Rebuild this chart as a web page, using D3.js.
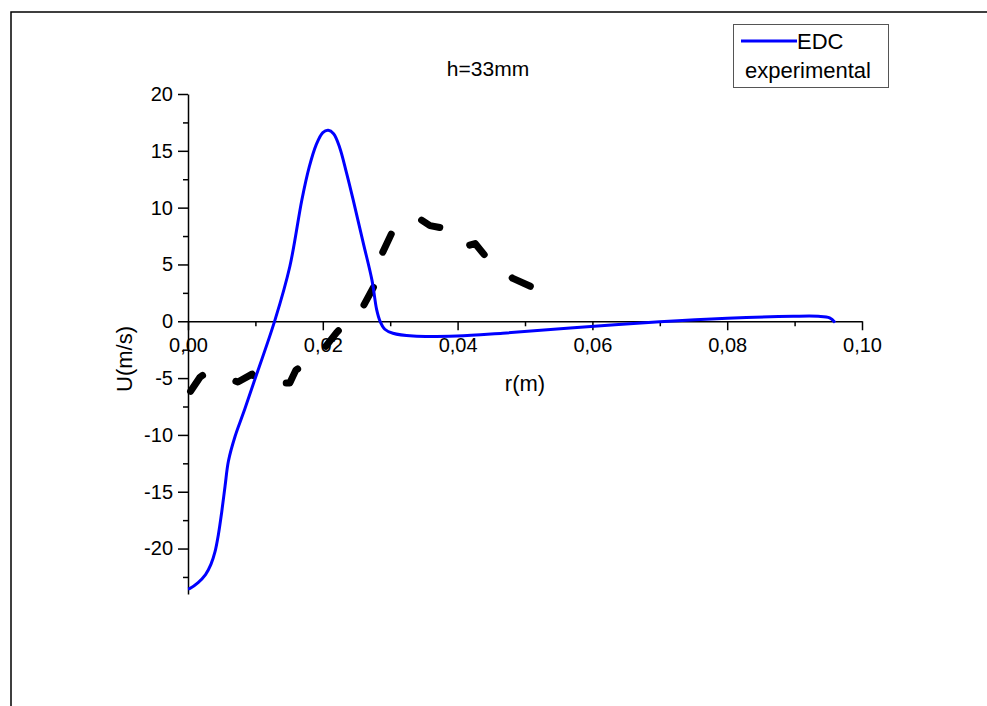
<!DOCTYPE html>
<html lang="en">
<head>
<meta charset="UTF-8">
<title>h=33mm</title>
<script src="https://cdn.jsdelivr.net/npm/d3@7"></script>
<style>
  body { margin: 0; background: #fff; }
  svg text { font-family: "Liberation Sans", Arial, sans-serif; fill: #000; }
  .tick text { font-size: 20px; }
</style>
</head>
<body>
<div id="chart"></div>
<script>
// EDC model curve, r (m) vs U (m/s)
var edcR = [0, 0.0003, 0.0015, 0.0026, 0.0034, 0.0040, 0.0045, 0.0050, 0.0055, 0.006, 0.007, 0.0082, 0.0097,
            0.0129, 0.0151, 0.0169, 0.018, 0.019, 0.020, 0.0208, 0.0216, 0.0225, 0.0235, 0.0245,
            0.026, 0.0273, 0.028, 0.0285, 0.0292, 0.0304, 0.0334, 0.0399, 0.0467, 0.0567,
            0.070, 0.080, 0.0898, 0.0935, 0.0952, 0.096];
var edcU = [-23.55, -23.5, -23.0, -22.3, -21.4, -20.3, -18.8, -16.8, -14.5, -12.3, -10.1, -8.1, -5.5,
            0.1, 4.8, 10.7, 13.6, 15.5, 16.6, 16.8, 16.5, 15.3, 13.1, 10.7,
            6.9, 3.6, 1.0, 0.0, -0.7, -1.05, -1.3, -1.3, -1.05, -0.6,
            -0.05, 0.26, 0.44, 0.44, 0.3, -0.1];

// experimental points
var expR = [0.0003, 0.0018, 0.0031, 0.0074, 0.0095, 0.0104, 0.0139, 0.0151, 0.0160, 0.0194, 0.0221, 0.0260,
            0.0279, 0.0288, 0.0304, 0.0341, 0.0359, 0.0374, 0.0411, 0.0426, 0.0443, 0.0482, 0.0518];
var expU = [-6.23, -4.91, -4.39, -5.35, -4.65, -5.35, -5.44, -5.44, -4.30, -2.98, -0.96, 1.32,
            3.42, 5.96, 7.98, 9.12, 8.42, 8.25, 6.58, 6.84, 5.61, 3.77, 2.81];

var xTicks = [0, 0.02, 0.04, 0.06, 0.08, 0.10];
var xMinor = [0.01, 0.03, 0.05, 0.07, 0.09];
var yTicks = [-20, -15, -10, -5, 0, 5, 10, 15, 20];
var yMinor = [-22.5, -17.5, -12.5, -7.5, -2.5, 2.5, 7.5, 12.5, 17.5];
var seriesNames = ["EDC", "experimental"];

var svg = d3.select("#chart").append("svg").attr("width", 987).attr("height", 706);

// outer frame (runs off the page at right and bottom)
svg.append("rect").attr("x", 11).attr("y", 12).attr("width", 1000).attr("height", 800)
   .attr("fill", "none").attr("stroke", "#000").attr("stroke-width", 1.5);

var x = d3.scaleLinear().domain([0, 0.10]).range([188, 862]);
var y = d3.scaleLinear().domain([-24, 20]).range([594, 94]);

var fmtX = function(d) { return d3.format(".2f")(d).replace(".", ","); };
var fmtY = function(d) { return String(d); };   // plain hyphen minus

// x axis sits on U = 0
var gx = svg.append("g").attr("transform", "translate(0," + y(0) + ")");
gx.call(d3.axisBottom(x).tickValues(xTicks).tickFormat(fmtX).tickSize(9).tickPadding(8).tickSizeOuter(0));
gx.append("g").call(d3.axisBottom(x).tickValues(xMinor).tickFormat("").tickSize(5).tickSizeOuter(0))
  .select(".domain").remove();

var gy = svg.append("g").attr("transform", "translate(" + x(0) + ",0)");
gy.call(d3.axisLeft(y).tickValues(yTicks).tickFormat(fmtY).tickSize(10).tickPadding(5).tickSizeOuter(0));
gy.append("g").call(d3.axisLeft(y).tickValues(yMinor).tickFormat("").tickSize(5).tickSizeOuter(0))
  .select(".domain").remove();

svg.selectAll(".domain, .tick line").attr("stroke", "#000").attr("stroke-width", 1.5);

// axis titles
svg.append("text").attr("x", 525).attr("y", 391).attr("text-anchor", "middle")
   .style("font-size", "22px").text("r(m)");
svg.append("text").attr("transform", "translate(132,359) rotate(-90)").attr("text-anchor", "middle")
   .style("font-size", "22px").text("U(m/s)");
svg.append("text").attr("x", 488).attr("y", 76).attr("text-anchor", "middle")
   .style("font-size", "21px").text("h=33mm");

// curves
var line = d3.line().x(function(d) { return x(d[0]); }).y(function(d) { return y(d[1]); });

svg.append("path").datum(d3.zip(expR, expU))
   .attr("d", line)
   .attr("fill", "none").attr("stroke", "#000").attr("stroke-width", 7)
   .attr("stroke-linecap", "round").attr("stroke-linejoin", "round")
   .attr("stroke-dasharray", "20,36.5").attr("stroke-dashoffset", -1);

svg.append("path").datum(d3.zip(edcR, edcU))
   .attr("d", line.curve(d3.curveCatmullRom.alpha(0.5)))
   .attr("fill", "none").attr("stroke", "#0000ff").attr("stroke-width", 3);

// legend
var lg = svg.append("g");
lg.append("rect").attr("x", 733.5).attr("y", 24.5).attr("width", 155).attr("height", 63)
  .attr("fill", "#fff").attr("stroke", "#555").attr("stroke-width", 1);
lg.append("line").attr("x1", 741).attr("x2", 797).attr("y1", 41).attr("y2", 41)
  .attr("stroke", "#0000ff").attr("stroke-width", 3);
lg.append("text").attr("x", 797).attr("y", 49).style("font-size", "22px").text(seriesNames[0]);
lg.append("text").attr("x", 745).attr("y", 78).style("font-size", "22px").text(seriesNames[1]);
</script>
</body>
</html>
